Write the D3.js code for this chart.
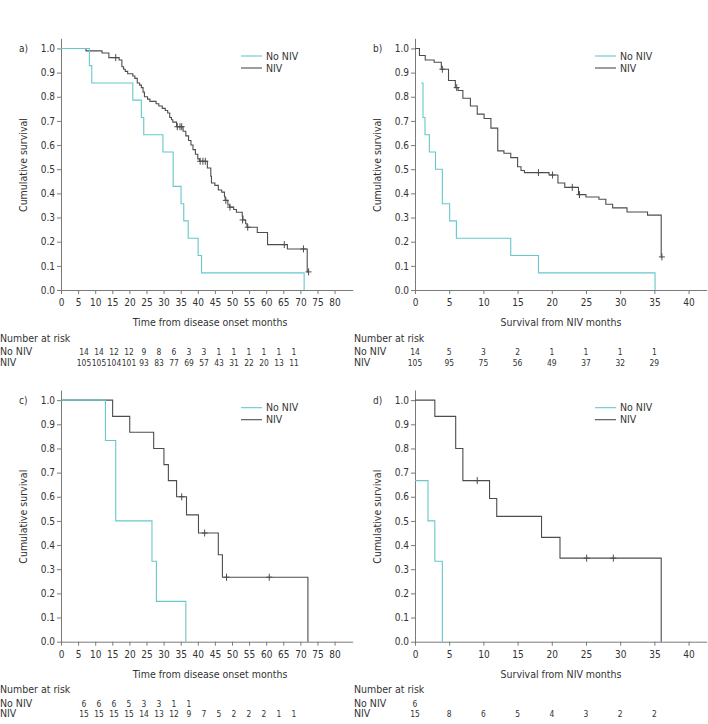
<!DOCTYPE html>
<html>
<head>
<meta charset="utf-8">
<script src="https://cdn.jsdelivr.net/npm/d3@7"></script>
<style>
  body { margin: 0; background: #fff; }
  text { font-family: "DejaVu Sans Condensed", "DejaVu Sans", sans-serif; font-stretch: condensed; }
</style>
</head>
<body>
<div id="chart"></div>
<script>
// survival curves: [months, cumulative survival]
var noNivA = [[0,1],[8.3,0.929],[9.0,0.857],[21.0,0.786],[23.5,0.714],[24.2,0.643],[29.8,0.571],[32.8,0.429],[35.1,0.357],[35.9,0.286],[37.2,0.214],[40.1,0.143],[41.1,0.071],[71.1,0]];
var nivA = [[0,1],[7.3,0.990],[12.0,0.981],[14.0,0.962],[17.0,0.952],[17.8,0.924],[18.3,0.914],[18.8,0.905],[19.5,0.895],[21.0,0.886],[21.6,0.876],[22.3,0.857],[23.0,0.848],[23.5,0.838],[24.0,0.819],[24.4,0.800],[25.3,0.790],[26.0,0.781],[27.8,0.771],[28.6,0.762],[29.6,0.752],[30.5,0.743],[31.2,0.733],[31.8,0.714],[32.3,0.705],[32.7,0.695],[33.8,0.676],[35.7,0.657],[36.5,0.638],[37.3,0.619],[38.0,0.600],[38.6,0.581],[39.3,0.562],[40.0,0.543],[40.5,0.533],[42.8,0.505],[43.8,0.471],[44.0,0.443],[45.0,0.433],[46.0,0.414],[47.0,0.405],[47.8,0.386],[48.0,0.371],[48.8,0.352],[49.3,0.343],[50.5,0.333],[51.3,0.322],[53.0,0.306],[53.2,0.290],[54.0,0.274],[54.4,0.260],[57.4,0.238],[60.4,0.188],[66.2,0.170],[72.0,0.075],[72.4,0.075]];
var nivACensor = [[16.0,0.962],[34.0,0.676],[34.8,0.676],[35.3,0.676],[40.7,0.533],[41.5,0.533],[42.2,0.533],[48.2,0.371],[49.4,0.343],[53.1,0.290],[54.6,0.260],[65.3,0.188],[70.9,0.170],[72.4,0.075]];

var noNivB = [[0.9,0.857],[1.17,0.714],[1.46,0.643],[2.1,0.571],[3.0,0.5],[4.0,0.357],[5.07,0.286],[6.05,0.214],[14.0,0.143],[18.05,0.071],[35.1,0]];
var nivB = [[0,1],[0.65,0.971],[1.5,0.952],[2.8,0.943],[3.85,0.914],[4.9,0.867],[5.9,0.838],[6.3,0.826],[7.0,0.794],[8.1,0.762],[9.1,0.728],[10.1,0.71],[11.1,0.67],[12.1,0.576],[13.0,0.566],[14.0,0.548],[15.0,0.51],[15.5,0.495],[16.0,0.486],[19.6,0.476],[20.9,0.443],[21.9,0.425],[23.9,0.395],[25.0,0.385],[26.9,0.376],[27.9,0.355],[28.9,0.34],[31.0,0.323],[34.0,0.31],[36.0,0.137],[36.1,0.137]];
var nivBCensor = [[4.0,0.914],[6.1,0.838],[18.05,0.486],[20.1,0.476],[23.0,0.425],[24.05,0.395],[36.1,0.137]];

var noNivC = [[0,1],[13.0,0.833],[16.0,0.5],[26.6,0.333],[27.9,0.167],[36.5,0]];
var nivC = [[0,1],[15.1,0.933],[20.1,0.867],[27.1,0.8],[30.1,0.733],[31.4,0.667],[33.8,0.6],[36.7,0.525],[40.2,0.45],[46.0,0.36],[47.2,0.267],[72.2,0]];
var nivCCensor = [[35.3,0.6],[42.0,0.45],[48.4,0.267],[60.9,0.267]];

var noNivD = [[0,0.667],[1.9,0.5],[2.9,0.333],[4.0,0]];
var nivD = [[0,1],[2.9,0.933],[5.95,0.8],[7.0,0.667],[10.9,0.593],[11.95,0.519],[18.5,0.432],[21.2,0.346],[36.0,0]];
var nivDCensor = [[9.1,0.667],[25.1,0.346],[29.0,0.346]];

// axis ticks
var onsetTicks = [0,5,10,15,20,25,30,35,40,45,50,55,60,65,70,75,80];
var nivTicks = [0,5,10,15,20,25,30,35,40];
var survTicks = [0,0.1,0.2,0.3,0.4,0.5,0.6,0.7,0.8,0.9,1.0];

// number at risk tables
var riskOnsetTimes = [0,5,10,15,20,25,30,35,40,45,50,55,60,65,70];
var riskNivTimes = [0,5,10,15,20,25,30,35];
var riskNoNivA = [14,14,12,12,9,8,6,3,3,1,1,1,1,1,1];
var riskNivA = [105,105,104,101,93,83,77,69,57,43,31,22,20,13,11];
var riskNoNivB = [14,5,3,2,1,1,1,1];
var riskNivB = [105,95,75,56,49,37,32,29];
var riskNoNivC = [6,6,6,5,3,3,1,1];
var riskNivC = [15,15,15,15,14,13,12,9,7,5,2,2,2,1,1];
var riskNoNivD = [6];
var riskNivD = [15,8,6,5,4,3,2,2];

var cyan = '#66c8ca';
var dark = '#4d4d4d';
var axisCol = '#7a7a7a';
var textCol = '#333';

var svg = d3.select('#chart').append('svg')
  .attr('width', 708)
  .attr('height', 724);

function drawPanel(p) {
  var g = svg.append('g').attr('transform', `translate(${p.ox}, ${p.oy})`);

  var x = d3.scaleLinear().domain([0, p.xMax]).range([61, 352.7]);
  var y = d3.scaleLinear().domain([0, 1.042]).range([290, 38.3]);

  // axes
  var xAxis = g.append('g')
    .attr('transform', 'translate(0, 290)')
    .call(d3.axisBottom(x).tickValues(p.xTicks).tickSize(4).tickSizeOuter(0).tickPadding(5));
  var yAxis = g.append('g')
    .attr('transform', 'translate(61, 0)')
    .call(d3.axisLeft(y).tickValues(survTicks).tickFormat(d3.format('.1f')).tickSize(4).tickSizeOuter(0).tickPadding(2));
  [xAxis, yAxis].forEach(function(a) {
    a.selectAll('path, line').attr('stroke', axisCol);
    a.selectAll('text').attr('fill', textCol).attr('font-size', '10px');
  });

  g.append('text')
    .attr('x', 19).attr('y', 52)
    .attr('font-size', '10px').attr('fill', textCol)
    .text(p.label);

  g.append('text')
    .attr('transform', 'translate(27, 165) rotate(-90)')
    .attr('text-anchor', 'middle')
    .attr('font-size', '10.5px').attr('fill', textCol)
    .text('Cumulative survival');

  g.append('text')
    .attr('x', p.xTitleX).attr('y', 326)
    .attr('text-anchor', 'middle')
    .attr('font-size', '10.5px').attr('fill', textCol)
    .text(p.xTitle);

  // curves
  var line = d3.line()
    .x(d => x(d[0]))
    .y(d => y(d[1]))
    .curve(d3.curveStepAfter);

  g.append('path').datum(p.niv)
    .attr('d', line).attr('fill', 'none')
    .attr('stroke', dark).attr('stroke-width', 1.1);

  g.selectAll('.censor')
    .data(p.censor)
    .enter()
    .append('path')
    .classed('censor', true)
    .attr('d', d => `M${x(d[0]) - 3},${y(d[1])}h6M${x(d[0])},${y(d[1]) - 3.5}v7`)
    .attr('stroke', dark).attr('stroke-width', 1);

  g.append('path').datum(p.noNiv)
    .attr('d', line).attr('fill', 'none')
    .attr('stroke', cyan).attr('stroke-width', 1.1);

  // legend
  var legend = [['No NIV', cyan, 56], ['NIV', dark, 68]];
  legend.forEach(function(l) {
    g.append('line')
      .attr('x1', 241).attr('x2', 262)
      .attr('y1', l[2]).attr('y2', l[2])
      .attr('stroke', l[1]).attr('stroke-width', 1.1);
    g.append('text')
      .attr('x', 266).attr('y', l[2]).attr('dy', '0.35em')
      .attr('font-size', '10.5px').attr('fill', textCol)
      .text(l[0]);
  });

  // number at risk
  var rows = [['Number at risk', null, 341.5], ['No NIV', p.riskNoNiv, 355], ['NIV', p.riskNiv, 365.5]];
  rows.forEach(function(r) {
    g.append('text')
      .attr('x', 0).attr('y', r[2])
      .attr('font-size', '10.5px').attr('fill', textCol)
      .text(r[0]);
    if (!r[1]) return;
    g.selectAll(null)
      .data(r[1])
      .enter()
      .append('text')
      .attr('x', (d, i) => p.riskX(p.riskTimes[i]))
      .attr('y', r[2])
      .attr('text-anchor', 'middle')
      .attr('font-size', '8.4px').attr('fill', textCol)
      .text(d => d);
  });

  return x;
}

var onsetRiskX = d3.scaleLinear().domain([0, 70]).range([84, 294]);
var nivRiskX = d3.scaleLinear().domain([0, 42.65]).range([61, 352.7]);

drawPanel({
  ox: 0, oy: 0, label: 'a)', xMax: 85.3, xTicks: onsetTicks,
  xTitle: 'Time from disease onset months', xTitleX: 210,
  noNiv: noNivA, niv: nivA, censor: nivACensor,
  riskTimes: riskOnsetTimes, riskNoNiv: riskNoNivA, riskNiv: riskNivA, riskX: onsetRiskX
});
drawPanel({
  ox: 354, oy: 0, label: 'b)', xMax: 42.65, xTicks: nivTicks,
  xTitle: 'Survival from NIV months', xTitleX: 207,
  noNiv: noNivB, niv: nivB, censor: nivBCensor,
  riskTimes: riskNivTimes, riskNoNiv: riskNoNivB, riskNiv: riskNivB, riskX: nivRiskX
});
drawPanel({
  ox: 0, oy: 351.7, label: 'c)', xMax: 85.3, xTicks: onsetTicks,
  xTitle: 'Time from disease onset months', xTitleX: 210,
  noNiv: noNivC, niv: nivC, censor: nivCCensor,
  riskTimes: riskOnsetTimes, riskNoNiv: riskNoNivC, riskNiv: riskNivC, riskX: onsetRiskX
});
drawPanel({
  ox: 354, oy: 351.7, label: 'd)', xMax: 42.65, xTicks: nivTicks,
  xTitle: 'Survival from NIV months', xTitleX: 207,
  noNiv: noNivD, niv: nivD, censor: nivDCensor,
  riskTimes: riskNivTimes, riskNoNiv: riskNoNivD, riskNiv: riskNivD, riskX: nivRiskX
});
</script>
</body>
</html>
